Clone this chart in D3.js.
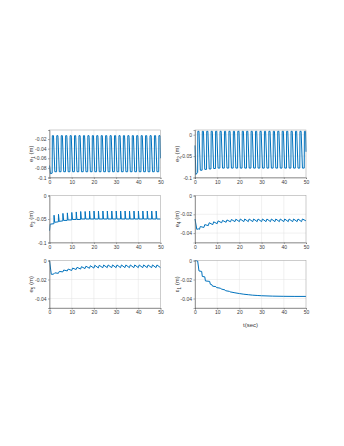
<!DOCTYPE html>
<html><head><meta charset="utf-8">
<script src="https://cdn.jsdelivr.net/npm/d3@7/dist/d3.min.js"></script>
<style>body{margin:0;background:#fff}svg{display:block}text{font-family:"Liberation Sans",Arial,sans-serif}</style>
</head><body><svg id="c" width="344" height="446"></svg>
<script>
// ---- data ----
const xTicks = [0, 10, 20, 30, 40, 50];

// breakpoints for the two large oscillations (e1, e2)
const tSquare = [0, 0.4,
 1.2,1.28,1.8,2.4, 3.2,3.28,3.8,4.4, 5.2,5.28,5.8,6.4, 7.2,7.28,7.8,8.4, 9.2,9.28,9.8,10.4,
 11.2,11.28,11.8,12.4, 13.2,13.28,13.8,14.4, 15.2,15.28,15.8,16.4, 17.2,17.28,17.8,18.4, 19.2,19.28,19.8,20.4,
 21.2,21.28,21.8,22.4, 23.2,23.28,23.8,24.4, 25.2,25.28,25.8,26.4, 27.2,27.28,27.8,28.4, 29.2,29.28,29.8,30.4,
 31.2,31.28,31.8,32.4, 33.2,33.28,33.8,34.4, 35.2,35.28,35.8,36.4, 37.2,37.28,37.8,38.4, 39.2,39.28,39.8,40.4,
 41.2,41.28,41.8,42.4, 43.2,43.28,43.8,44.4, 45.2,45.28,45.8,46.4, 47.2,47.28,47.8,48.4, 49.2,49.28,49.8,50];
const e1 = [-0.075, -0.092,
 -0.091,-0.013,-0.013,-0.088, -0.088,-0.013,-0.013,-0.088, -0.088,-0.013,-0.013,-0.088, -0.088,-0.013,-0.013,-0.088, -0.088,-0.013,-0.013,-0.088,
 -0.088,-0.013,-0.013,-0.088, -0.088,-0.013,-0.013,-0.088, -0.088,-0.013,-0.013,-0.088, -0.088,-0.013,-0.013,-0.088, -0.088,-0.013,-0.013,-0.088,
 -0.088,-0.013,-0.013,-0.088, -0.088,-0.013,-0.013,-0.088, -0.088,-0.013,-0.013,-0.088, -0.088,-0.013,-0.013,-0.088, -0.088,-0.013,-0.013,-0.088,
 -0.088,-0.013,-0.013,-0.088, -0.088,-0.013,-0.013,-0.088, -0.088,-0.013,-0.013,-0.088, -0.088,-0.013,-0.013,-0.088, -0.088,-0.013,-0.013,-0.088,
 -0.088,-0.013,-0.013,-0.088, -0.088,-0.013,-0.013,-0.088, -0.088,-0.013,-0.013,-0.088, -0.088,-0.013,-0.013,-0.088, -0.088,-0.013,-0.013,-0.060];
const e2 = [-0.025, -0.093,
 -0.088,0.008,0.008,-0.083, -0.083,0.008,0.008,-0.081, -0.081,0.008,0.008,-0.080, -0.080,0.008,0.008,-0.079, -0.079,0.008,0.008,-0.078,
 -0.078,0.008,0.008,-0.078, -0.078,0.008,0.008,-0.078, -0.078,0.008,0.008,-0.078, -0.078,0.008,0.008,-0.078, -0.078,0.008,0.008,-0.078,
 -0.078,0.008,0.008,-0.078, -0.078,0.008,0.008,-0.078, -0.078,0.008,0.008,-0.078, -0.078,0.008,0.008,-0.078, -0.078,0.008,0.008,-0.078,
 -0.078,0.008,0.008,-0.078, -0.078,0.008,0.008,-0.078, -0.078,0.008,0.008,-0.078, -0.078,0.008,0.008,-0.078, -0.078,0.008,0.008,-0.078,
 -0.078,0.008,0.008,-0.078, -0.078,0.008,0.008,-0.078, -0.078,0.008,0.008,-0.078, -0.078,0.008,0.008,-0.078, -0.078,0.008,0.008,-0.040];

// e3: baseline with narrow spikes
const tSpike = [0, 0.25, 0.3,
 2.0,2.05,2.35, 4.0,4.05,4.35, 6.0,6.05,6.35, 8.0,8.05,8.35, 10.0,10.05,10.35, 12.0,12.05,12.35,
 14.0,14.05,14.35, 16.0,16.05,16.35, 18.0,18.05,18.35, 20.0,20.05,20.35, 22.0,22.05,22.35, 24.0,24.05,24.35,
 26.0,26.05,26.35, 28.0,28.05,28.35, 30.0,30.05,30.35, 32.0,32.05,32.35, 34.0,34.05,34.35, 36.0,36.05,36.35,
 38.0,38.05,38.35, 40.0,40.05,40.35, 42.0,42.05,42.35, 44.0,44.05,44.35, 46.0,46.05,46.35, 48.0,48.05,48.35, 50];
const e3 = [-0.075, -0.062, -0.061,
 -0.060,-0.042,-0.057, -0.056,-0.040,-0.055, -0.054,-0.038,-0.053, -0.053,-0.037,-0.052, -0.052,-0.036,-0.051, -0.051,-0.035,-0.051,
 -0.051,-0.034,-0.050, -0.050,-0.034,-0.050, -0.050,-0.033,-0.050, -0.050,-0.033,-0.050, -0.050,-0.033,-0.050, -0.050,-0.033,-0.050,
 -0.050,-0.033,-0.050, -0.050,-0.033,-0.050, -0.050,-0.033,-0.050, -0.050,-0.033,-0.050, -0.050,-0.033,-0.050, -0.050,-0.033,-0.050,
 -0.050,-0.033,-0.050, -0.050,-0.033,-0.050, -0.050,-0.033,-0.050, -0.050,-0.033,-0.050, -0.050,-0.033,-0.050, -0.050,-0.033,-0.050, -0.050];

// e4, e5: small teeth
const tTeeth = [0, 0.8, 1.6,
 2.0,2.4, 4.0,4.4, 6.0,6.4, 8.0,8.4, 10.0,10.4, 12.0,12.4, 14.0,14.4, 16.0,16.4, 18.0,18.4, 20.0,20.4,
 22.0,22.4, 24.0,24.4, 26.0,26.4, 28.0,28.4, 30.0,30.4, 32.0,32.4, 34.0,34.4, 36.0,36.4, 38.0,38.4, 40.0,40.4,
 42.0,42.4, 44.0,44.4, 46.0,46.4, 48.0,48.4, 50];
const e4 = [-0.025, -0.036, -0.0355,
 -0.036,-0.033, -0.034,-0.031, -0.032,-0.029, -0.031,-0.028, -0.030,-0.027, -0.029,-0.0265, -0.0285,-0.026, -0.028,-0.0255, -0.0278,-0.0252, -0.0278,-0.025,
 -0.0278,-0.025, -0.0278,-0.025, -0.0278,-0.025, -0.0278,-0.025, -0.0278,-0.025, -0.0278,-0.025, -0.0278,-0.025, -0.0278,-0.025, -0.0278,-0.025, -0.0278,-0.025,
 -0.0278,-0.025, -0.0278,-0.025, -0.0278,-0.025, -0.0278,-0.025, -0.027];
const e5 = [0, -0.0145, -0.0145,
 -0.014,-0.013, -0.0135,-0.0115, -0.012,-0.010, -0.011,-0.009, -0.0105,-0.008, -0.0095,-0.0072, -0.009,-0.0065, -0.0085,-0.006, -0.0082,-0.0055, -0.008,-0.005,
 -0.0078,-0.005, -0.0076,-0.0048, -0.0075,-0.0047, -0.0075,-0.0047, -0.0075,-0.0047, -0.0075,-0.0047, -0.0075,-0.0047, -0.0075,-0.0047, -0.0075,-0.0047, -0.0075,-0.0047,
 -0.0075,-0.0047, -0.0075,-0.0047, -0.0075,-0.0047, -0.0075,-0.0047, -0.0075];

// eps1: staircase decay
const tEps = [0, 1.2, 1.8, 3.0, 3.3, 4.4, 4.7, 6.6, 6.9, 7.6, 7.9, 9.4, 9.7, 11.5, 11.8, 13.5, 13.8, 15.5, 15.8, 18, 20, 22, 24, 26, 28, 30, 35, 40, 45, 50];
const eps1 = [0, -0.0005, -0.011, -0.0115, -0.0168, -0.0172, -0.0215, -0.022, -0.025, -0.0255, -0.027, -0.0275, -0.0285, -0.0292, -0.030, -0.031, -0.0318, -0.0325, -0.033, -0.034, -0.0348, -0.0355, -0.036, -0.0365, -0.0368, -0.0371, -0.0375, -0.0377, -0.0378, -0.0378];

// y-axis ticks per panel
const yTicks1 = [-0.1, -0.08, -0.06, -0.04, -0.02];
const yTicks2 = [-0.1, -0.05, 0];
const yTicks3 = [-0.1, -0.05, 0];
const yTicks4 = [-0.04, -0.02, 0];
const yTicks5 = [-0.04, -0.02, 0];
const yTicks6 = [-0.04, -0.02, 0];

const panels = [
  {t: tSquare, v: e1, yd: [-0.1, -0.0012], yt: yTicks1, lab: ["e", "1"], col: 0, row: 0},
  {t: tSquare, v: e2, yd: [-0.1, 0.011], yt: yTicks2, lab: ["e", "2"], col: 1, row: 0},
  {t: tSpike, v: e3, yd: [-0.1, 0], yt: yTicks3, lab: ["e", "3"], col: 0, row: 1},
  {t: tTeeth, v: e4, yd: [-0.05, 0], yt: yTicks4, lab: ["e", "4"], col: 1, row: 1},
  {t: tTeeth, v: e5, yd: [-0.05, 0], yt: yTicks5, lab: ["e", "5"], col: 0, row: 2},
  {t: tEps, v: eps1, yd: [-0.05, 0], yt: yTicks6, lab: ["\u03b5", "1"], col: 1, row: 2},
];

// ---- layout ----
const colX = [[49.5, 160.5], [195, 306]];
const rowY = [[130, 177.5], [195.5, 242.5], [260.5, 308]];
const labX = [33, 179];
const axisCol = "#3a3a3a", gridCol = "#e3e3e3", lineCol = "#0072BD";

const svg = d3.select("#c");
const fmt = d => d === 0 ? "0" : String(d);

panels.forEach(p => {
  const [x0, x1] = colX[p.col], [y0, y1] = rowY[p.row];
  const x = d3.scaleLinear().domain([0, 50]).range([x0, x1]);
  const y = d3.scaleLinear().domain(p.yd).range([y1, y0]);
  const g = svg.append("g");
  // grid
  g.selectAll(".gx").data(xTicks.slice(1, -1)).join("line")
    .attr("x1", d => x(d)).attr("x2", d => x(d)).attr("y1", y0).attr("y2", y1)
    .attr("stroke", gridCol).attr("stroke-width", 0.5);
  g.selectAll(".gy").data(p.yt.filter(d => y(d) > y0 + 0.5 && y(d) < y1 - 0.5)).join("line")
    .attr("x1", x0).attr("x2", x1).attr("y1", d => y(d)).attr("y2", d => y(d))
    .attr("stroke", gridCol).attr("stroke-width", 0.5);
  // data line
  const pts = p.t.map((t, i) => [t, p.v[i]]);
  g.append("path").datum(pts)
    .attr("d", d3.line().x(d => x(d[0])).y(d => y(d[1])))
    .attr("fill", "none").attr("stroke", lineCol).attr("stroke-width", 1);
  // box
  g.append("rect").attr("x", x0).attr("y", y0).attr("width", x1 - x0).attr("height", y1 - y0)
    .attr("fill", "none").attr("stroke", "#9a9a9a").attr("stroke-width", 0.5);
  // axes
  const ax = g.append("g").attr("transform", `translate(0,${y1})`)
    .call(d3.axisBottom(x).tickValues(xTicks).tickSize(1.5).tickPadding(1).tickFormat(fmt));
  const ay = g.append("g").attr("transform", `translate(${x0},0)`)
    .call(d3.axisLeft(y).tickValues(p.yt).tickSize(1.5).tickPadding(1.5).tickFormat(fmt));
  [ax, ay].forEach(a => {
    a.select(".domain").attr("stroke", "#555").attr("stroke-width", 0.5);
    a.selectAll(".tick line").attr("stroke", "#555").attr("stroke-width", 0.5);
    a.selectAll("text").attr("fill", axisCol).attr("font-size", 5)
      .attr("font-family", '"Liberation Sans",Arial,sans-serif');
  });
  // y label
  const lab = g.append("text")
    .attr("transform", `translate(${labX[p.col]},${(y0 + y1) / 2}) rotate(-90)`)
    .attr("text-anchor", "middle").attr("font-size", 6).attr("fill", axisCol);
  lab.append("tspan").text(p.lab[0]);
  lab.append("tspan").attr("font-size", 4.5).attr("dy", 1.5).text(p.lab[1]);
  lab.append("tspan").attr("dy", -1.5).text(" (m)");
});

// x label
svg.append("text").attr("x", (colX[1][0] + colX[1][1]) / 2).attr("y", 327)
  .attr("text-anchor", "middle").attr("font-size", 6).attr("fill", axisCol).text("t(sec)");
</script></body></html>
